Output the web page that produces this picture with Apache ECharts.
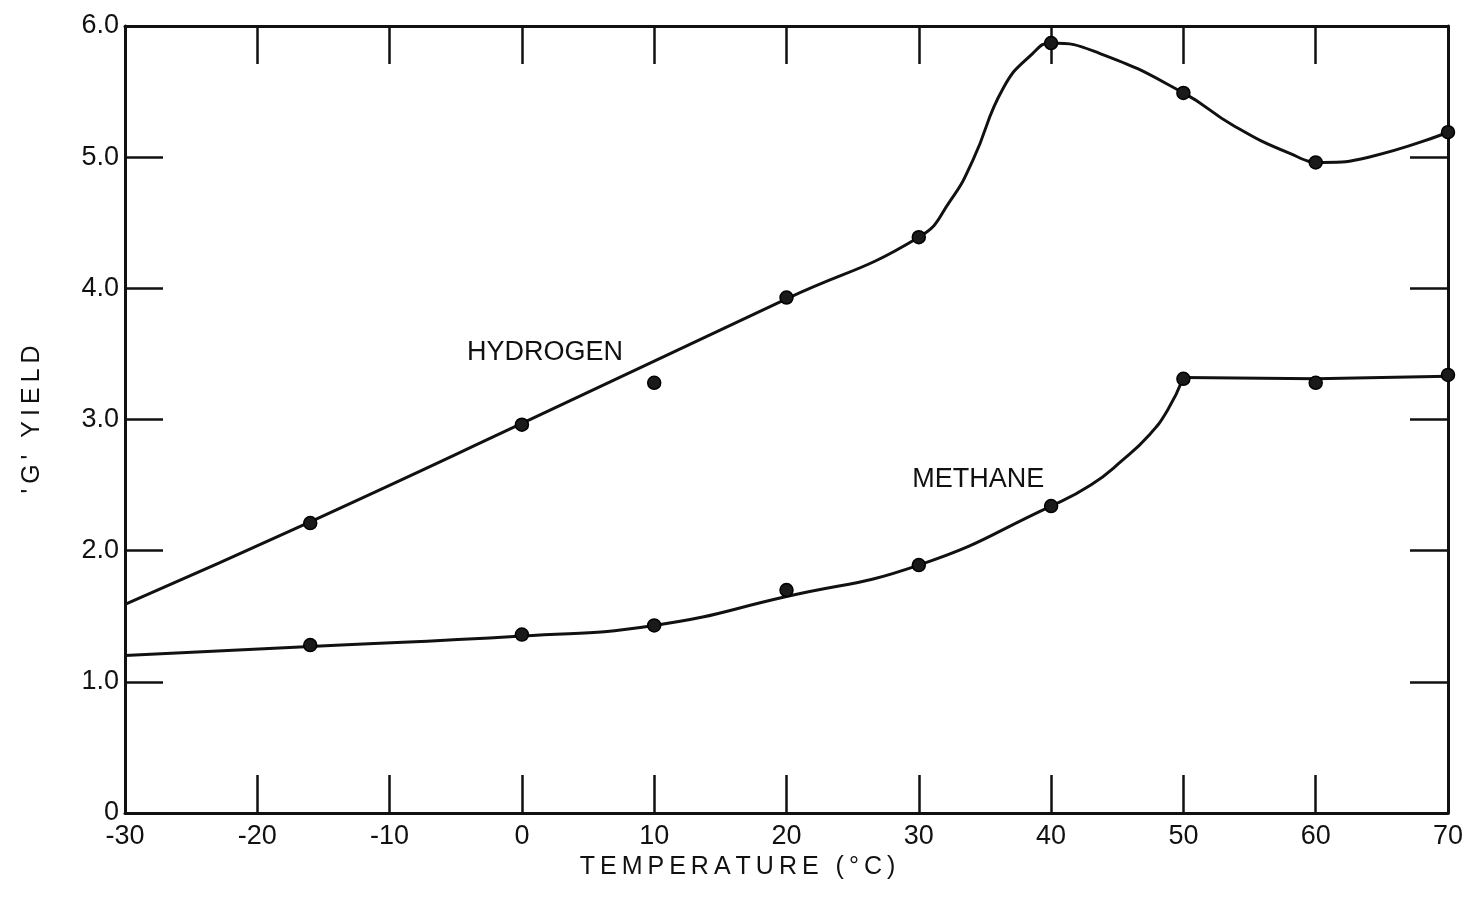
<!DOCTYPE html>
<html>
<head>
<meta charset="utf-8">
<title>G yield vs temperature</title>
<script src="https://cdn.jsdelivr.net/npm/echarts@6/dist/echarts.min.js"></script>
<style>
  html, body { margin: 0; padding: 0; background: #fff; }
  #chart { width: 1471px; height: 898px; }
</style>
</head>
<body>
<div id="chart"></div>
<script>
// measured points
const temps = [-16, 0, 10, 20, 30, 40, 50, 60, 70];
const hydrogenYield = [2.21, 2.96, 3.28, 3.93, 4.39, 5.87, 5.49, 4.96, 5.19];
const methaneYield = [1.28, 1.36, 1.43, 1.70, 1.89, 2.34, 3.31, 3.28, 3.34];

// hand drawn curves
const hydrogenCurveT = [-30, -16, 0, 20, 30, 32.4, 34.1, 36.4, 38.6, 40, 43.7, 50, 53.8, 58, 60.5, 64, 70];
const hydrogenCurveY = [1.59, 2.22, 2.97, 3.92, 4.39, 4.67, 4.98, 5.53, 5.79, 5.87, 5.79, 5.49, 5.24, 5.03, 4.96, 5.00, 5.19];
const methaneCurveT = [-30, -16, 0, 10, 20, 30, 40, 43, 45.4, 47.4, 48.8, 50];
const methaneCurveY = [1.20, 1.27, 1.35, 1.43, 1.65, 1.89, 2.34, 2.50, 2.69, 2.88, 3.07, 3.32];
const methaneFlatT = [50, 60, 70];
const methaneFlatY = [3.32, 3.31, 3.33];

// curve labels
const labelNames = ['HYDROGEN', 'METHANE'];
const labelT = [1.75, 34.5];
const labelY = [3.51, 2.54];

const xTicks = { min: -30, max: 70, interval: 10 };
const yTicks = { min: 0, max: 6, interval: 1 };

const ink = '#111';
const font = 'Liberation Sans';

function pairs(xs, ys) {
  return xs.map(function (x, i) { return [x, ys[i]]; });
}

// lettering in the original is widely spaced
function spaced(s) {
  return s.split('').join('\u2009');
}

const chart = echarts.init(document.getElementById('chart'));

function xAxis(pos, showLabel) {
  return {
    type: 'value',
    position: pos,
    min: xTicks.min, max: xTicks.max, interval: xTicks.interval,
    axisLine: { show: true, onZero: false, lineStyle: { color: ink, width: 3 } },
    axisTick: { show: true, inside: true, length: 38, lineStyle: { color: ink, width: 2.5 } },
    axisLabel: { show: showLabel, color: ink, fontSize: 27, fontFamily: font, margin: 10 },
    splitLine: { show: false }
  };
}

function yAxis(pos, showLabel) {
  return {
    type: 'value',
    position: pos,
    min: yTicks.min, max: yTicks.max, interval: yTicks.interval,
    axisLine: { show: true, onZero: false, lineStyle: { color: ink, width: 3 } },
    axisTick: { show: true, inside: true, length: 38, lineStyle: { color: ink, width: 2.5 } },
    axisLabel: {
      show: showLabel, color: ink, fontSize: 27, fontFamily: font, margin: 6,
      formatter: function (v) { return v === 0 ? '0' : v.toFixed(1); }
    },
    splitLine: { show: false }
  };
}

const xBottom = xAxis('bottom', true);
xBottom.name = spaced('TEMPERATURE (°C)');
xBottom.nameLocation = 'middle';
xBottom.nameGap = 40;
xBottom.nameTextStyle = { color: ink, fontSize: 25, fontFamily: font, padding: [0, 98, 0, 0] };

const yLeft = yAxis('left', true);
yLeft.name = spaced("'G' YIELD");
yLeft.nameLocation = 'middle';
yLeft.nameGap = 80;
yLeft.nameTextStyle = { color: ink, fontSize: 25, fontFamily: font };

const lineStyle = { color: ink, width: 3 };
const dot = {
  color: '#1a1a1a',
  borderColor: '#000',
  borderWidth: 1.5,
  opacity: 1
};

chart.setOption({
  backgroundColor: '#fff',
  animation: false,
  grid: { left: 125, right: 23, top: 26, bottom: 85 },
  xAxis: [xBottom, xAxis('top', false)],
  yAxis: [yLeft, yAxis('right', false)],
  series: [
    {
      type: 'line', name: 'Hydrogen curve',
      data: pairs(hydrogenCurveT, hydrogenCurveY),
      smooth: 0.5, showSymbol: false,
      lineStyle: lineStyle, silent: true
    },
    {
      type: 'line', name: 'Methane curve',
      data: pairs(methaneCurveT, methaneCurveY),
      smooth: 0.5, showSymbol: false,
      lineStyle: lineStyle, silent: true
    },
    {
      type: 'line', name: 'Methane plateau',
      data: pairs(methaneFlatT, methaneFlatY),
      showSymbol: false,
      lineStyle: lineStyle, silent: true
    },
    {
      type: 'scatter', name: 'Hydrogen',
      data: pairs(temps, hydrogenYield),
      symbol: 'circle', symbolSize: 13,
      itemStyle: dot, z: 5
    },
    {
      type: 'scatter', name: 'Methane',
      data: pairs(temps, methaneYield),
      symbol: 'circle', symbolSize: 13,
      itemStyle: dot, z: 5
    },
    {
      type: 'scatter', name: 'labels',
      data: labelNames.map(function (n, i) { return { name: n, value: [labelT[i], labelY[i]] }; }),
      symbolSize: 0, silent: true,
      itemStyle: { opacity: 1 },
      label: {
        show: true, position: 'inside',
        formatter: function (p) { return p.name; },
        color: ink, fontSize: 27, fontFamily: font
      }
    }
  ]
});

window.onresize = function () {
  chart.resize();
};
</script>
</body>
</html>
